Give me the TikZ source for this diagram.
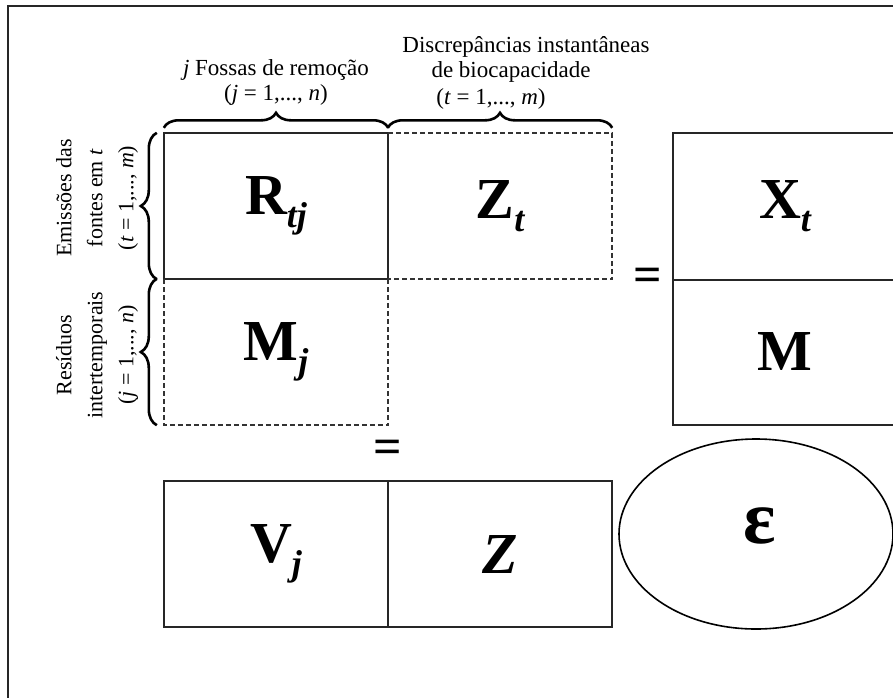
\documentclass[tikz,border=0pt]{standalone}
\usepackage{fontspec}
\setmainfont{Liberation Serif}
\usetikzlibrary{decorations.pathreplacing,shapes.geometric}
\begin{document}
\begin{tikzpicture}[x=1pt,y=-1pt,
  solidline/.style={draw=black!85, line width=1.8pt},
  dashline/.style={draw=black!80, line width=1.8pt, dash pattern=on 5pt off 3pt},
  brc/.style={draw=black, decorate, decoration={brace, amplitude=15pt}, line width=2.6pt},
  cell/.style={minimum width=224pt, minimum height=146pt, inner sep=0pt, font=\fontsize{58}{58}\selectfont\bfseries},
  lbl/.style={font=\fontsize{23}{25}\selectfont, align=center, inner sep=0pt},
  sidelbl/.style={font=\fontsize{22}{31}\selectfont, align=center, inner sep=0pt, rotate=90},
  eqs/.style={font=\fontsize{50}{50}\selectfont\bfseries, inner sep=0pt}
]
\newcommand{\mysub}[1]{\raisebox{-0.22em}{\fontsize{36}{36}\selectfont\bfseries\itshape #1}}
\useasboundingbox (0,0) rectangle (893,697);
\clip (0,0) rectangle (893,697);
% frame
\draw[draw=black!85, line width=2.6pt] (8,760) |- (960,6);

% cells
\node[cell] (R)  at (276,206) {R\mysub{tj}};
\node[cell] (Zt) at (500,206) {Z\mysub{t}};
\node[cell] (Mj) at (276,352) {M\mysub{j}};
\node[cell] (Xt) at (785,206.5) {X\mysub{t}};
\node[cell] (M)  at (785,352) {M};
\node[cell] (V)  at (276,554) {V\mysub{j}};
\node[cell] (Z)  at (500,554) {\itshape Z};

% borders
\draw[solidline] (R.north west) rectangle (R.south east);
\draw[dashline] (R.north east) -- (Zt.north east) -- (Zt.south east) -- (R.south east);
\draw[dashline] (R.south west) -- (Mj.south west) -- (Mj.south east) -- (R.south east);
\draw[solidline] (Xt.north west) rectangle (M.south east);
\draw[solidline] (Xt.south west) -- (Xt.south east);
\draw[solidline] (V.north west) rectangle (Z.south east);
\draw[solidline] (V.north east) -- (V.south east);

% braces
\draw[brc] ([yshift=5pt]R.north west) -- ([yshift=5pt]R.north east);
\draw[brc] ([yshift=5pt]Zt.north west) -- ([yshift=5pt]Zt.north east);
\draw[brc, decoration={brace, amplitude=16pt}] ([xshift=-7pt]R.south west) -- ([xshift=-7pt]R.north west);
\draw[brc, decoration={brace, amplitude=16pt}] ([xshift=-7pt]Mj.south west) -- ([xshift=-7pt]Mj.north west);

% top labels
\node[lbl] (fossas)  at (276,70) {\textit{j} Fossas de remoção};
\node[lbl] (fossasj) at (276,95) {(\textit{j} = 1,..., \textit{n})};
\node[lbl] (disc1) at (526,47) {Discrepâncias instantâneas};
\node[lbl] (disc2) at (511,72) {de biocapacidade};
\node[lbl] (disc3) at (491,99) {(\textit{t} = 1,..., \textit{m})};

% side labels
\node[sidelbl] (emis) at (97,198) {Emissões das\\fontes em \textit{t}\\(\textit{t} = 1,..., \textit{m})};
\node[sidelbl] (resid) at (97,355) {Resíduos\\intertemporais\\(\textit{j} = 1,..., \textit{n})};

% equals
\node[eqs] (eq1) at (648,280) {=};
\node[eqs] (eq2) at (388,452) {=};

% ellipse
\node[draw=black, ellipse, line width=1.6pt, minimum width=274pt, minimum height=190pt, inner sep=0pt] (eps) at (756,534) {};
\node[font=\fontsize{76}{76}\selectfont\bfseries, inner sep=0pt] (epsl) at (760,526) {ε};
\end{tikzpicture}
\end{document}
